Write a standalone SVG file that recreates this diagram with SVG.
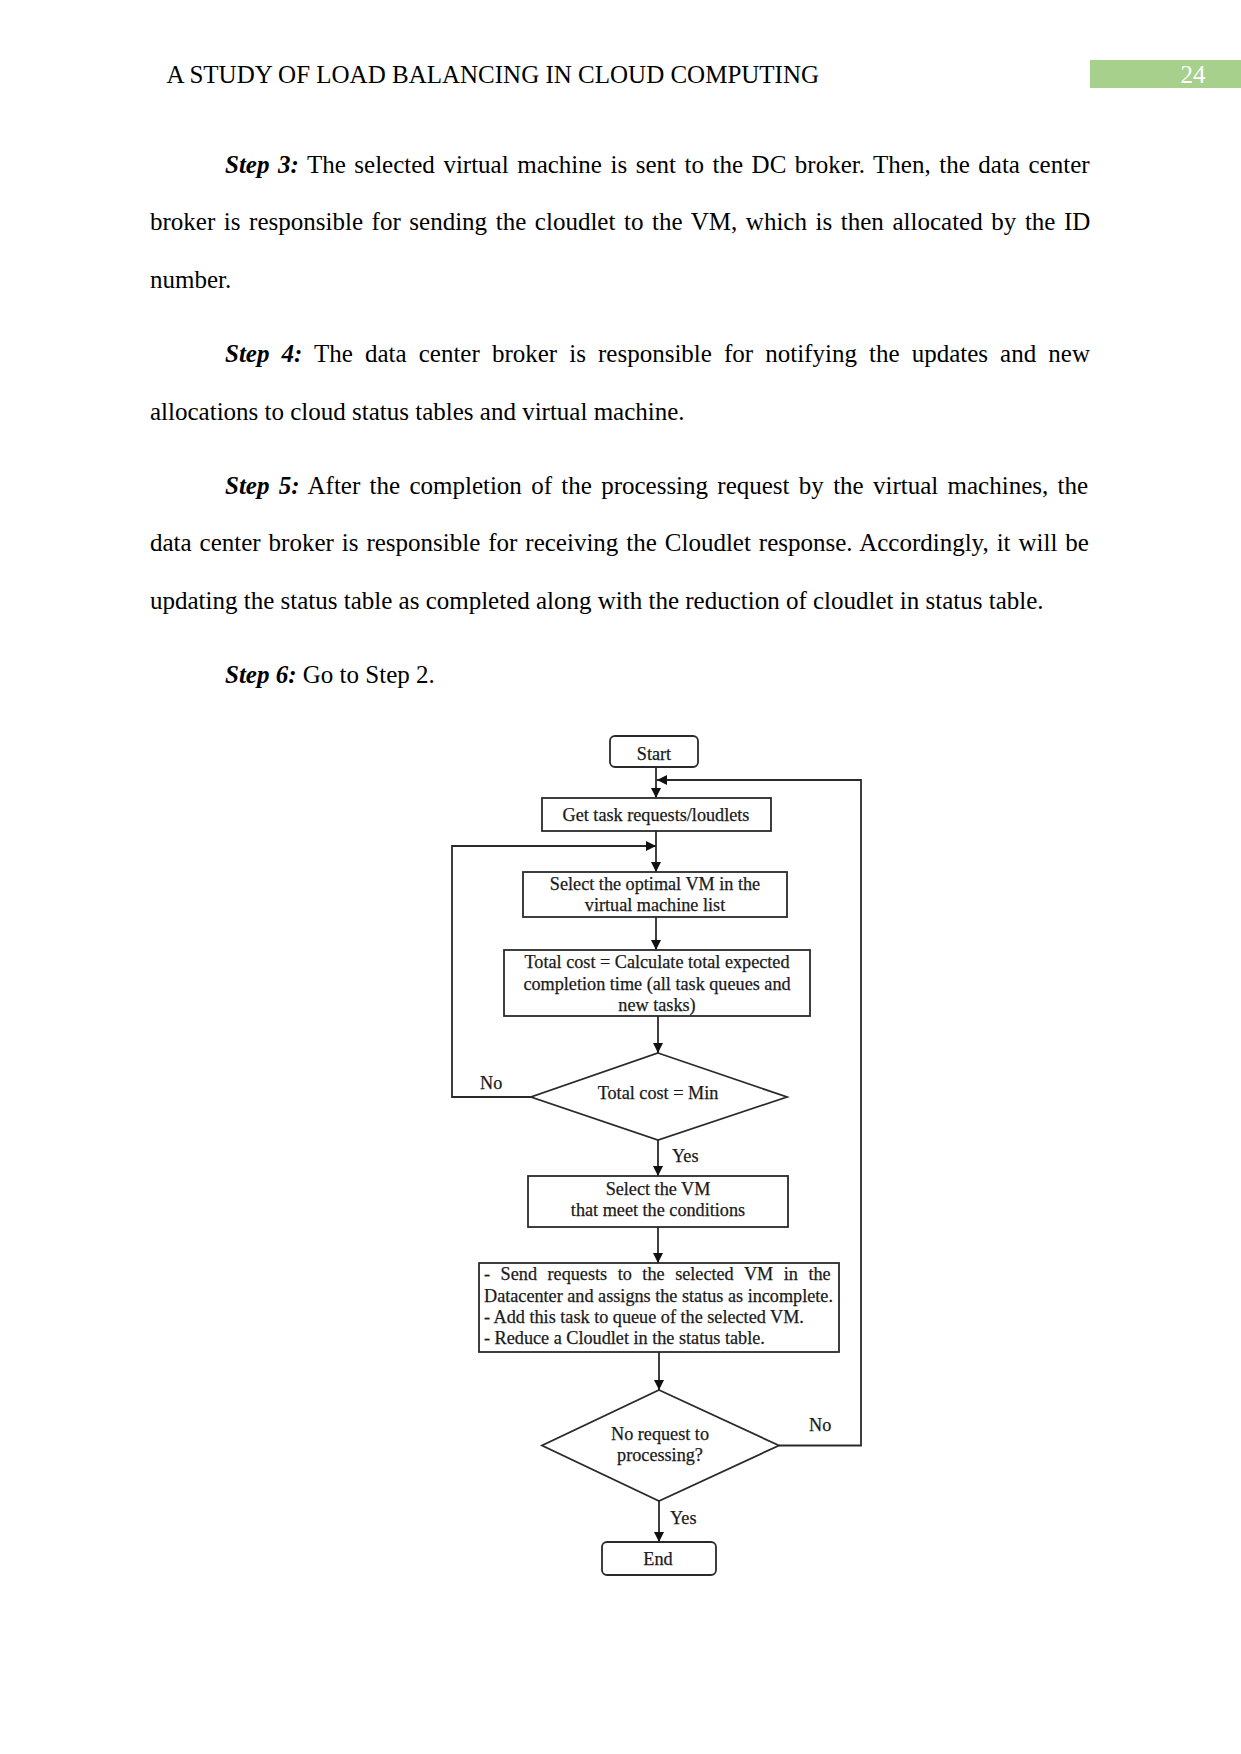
<svg xmlns="http://www.w3.org/2000/svg" width="1241" height="1754" viewBox="0 0 1241 1754">
<style>
.body{font-family:"Liberation Serif","Times New Roman",serif;font-size:25px;fill:#000}
.bi{font-weight:bold;font-style:italic}
.hdr{font-family:"Liberation Serif","Times New Roman",serif;font-size:25px;fill:#000}
.fc{font-family:"Liberation Serif","Times New Roman",serif;font-size:18.2px;fill:#1a1a1a;stroke:#1a1a1a;stroke-width:0.25}
.fcm{text-anchor:middle}
.shape{fill:#fff;stroke:#2a2a2a;stroke-width:1.8}
.conn{fill:none;stroke:#2a2a2a;stroke-width:1.8}
</style>
<defs>
<marker id="arr" viewBox="0 0 10 10" refX="10" refY="5" markerWidth="10" markerHeight="10" markerUnits="userSpaceOnUse" orient="auto">
<path d="M0,0 L10,5 L0,10 z" fill="#111"/>
</marker>
</defs>
<rect width="1241" height="1754" fill="#fff"/>

<g id="header">
<text class="hdr" x="166.5" y="82.5">A STUDY OF LOAD BALANCING IN CLOUD COMPUTING</text>
<rect x="1090" y="60" width="151" height="28" fill="#a8d08d"/>
<text class="hdr" x="1193" y="82.5" text-anchor="middle" style="fill:#fff">24</text>
</g>

<g id="body-text">
<text class="body" x="225" y="172.5" word-spacing="2.3"><tspan class="bi">Step 3:</tspan> The selected virtual machine is sent to the DC broker. Then, the data center</text>
<text class="body" x="150" y="230" word-spacing="2.35">broker is responsible for sending the cloudlet to the VM, which is then allocated by the ID</text>
<text class="body" x="150" y="287.5">number.</text>
<text class="body" x="225" y="361.5" word-spacing="5.85"><tspan class="bi">Step 4:</tspan> The data center broker is responsible for notifying the updates and new</text>
<text class="body" x="150" y="419.5">allocations to cloud status tables and virtual machine.</text>
<text class="body" x="225" y="493.5" word-spacing="3.05"><tspan class="bi">Step 5:</tspan> After the completion of the processing request by the virtual machines, the</text>
<text class="body" x="150" y="551" word-spacing="1.7">data center broker is responsible for receiving the Cloudlet response. Accordingly, it will be</text>
<text class="body" x="150" y="608.5">updating the status table as completed along with the reduction of cloudlet in status table.</text>
<text class="body" x="225" y="682.5"><tspan class="bi">Step 6:</tspan> Go to Step 2.</text>
</g>

<g id="connectors">
<line class="conn" x1="656" y1="767" x2="656" y2="798" marker-end="url(#arr)"/>
<polyline class="conn" points="779,1445.5 861,1445.5 861,780 657,780" marker-end="url(#arr)"/>
<line class="conn" x1="656" y1="831" x2="656" y2="872" marker-end="url(#arr)"/>
<polyline class="conn" points="531,1097 452,1097 452,846 656,846" marker-end="url(#arr)"/>
<line class="conn" x1="656" y1="917" x2="656" y2="950" marker-end="url(#arr)"/>
<line class="conn" x1="658" y1="1016" x2="658" y2="1053" marker-end="url(#arr)"/>
<line class="conn" x1="658" y1="1140" x2="658" y2="1176" marker-end="url(#arr)"/>
<line class="conn" x1="658" y1="1227" x2="658" y2="1263" marker-end="url(#arr)"/>
<line class="conn" x1="659" y1="1352" x2="659" y2="1390" marker-end="url(#arr)"/>
<line class="conn" x1="659" y1="1501" x2="659" y2="1542" marker-end="url(#arr)"/>
<text class="fc" x="480" y="1089">No</text>
<text class="fc" x="672" y="1162">Yes</text>
<text class="fc" x="809" y="1431">No</text>
<text class="fc" x="670" y="1524">Yes</text>
</g>

<g id="start">
<rect class="shape" x="610" y="736" width="88" height="31" rx="5"/>
<text class="fc fcm" x="654" y="760">Start</text>
</g>

<g id="get-tasks">
<rect class="shape" x="542" y="798" width="229" height="33"/>
<text class="fc fcm" x="656" y="821">Get task requests/loudlets</text>
</g>

<g id="select-optimal">
<rect class="shape" x="523" y="872" width="264" height="45"/>
<text class="fc fcm" x="655" y="890">Select the optimal VM in the</text>
<text class="fc fcm" x="655" y="911">virtual machine list</text>
</g>

<g id="total-cost">
<rect class="shape" x="504" y="950" width="306" height="66"/>
<text class="fc fcm" x="657" y="968">Total cost = Calculate total expected</text>
<text class="fc fcm" x="657" y="989.5">completion time (all task queues and</text>
<text class="fc fcm" x="657" y="1011">new tasks)</text>
</g>

<g id="decision-min">
<polygon class="shape" points="658,1053 787,1097 658,1140 531,1097"/>
<text class="fc fcm" x="658" y="1099">Total cost = Min</text>
</g>

<g id="select-vm">
<rect class="shape" x="528" y="1176" width="260" height="51"/>
<text class="fc fcm" x="658" y="1194.5">Select the VM</text>
<text class="fc fcm" x="658" y="1215.5">that meet the conditions</text>
</g>

<g id="send-requests">
<rect class="shape" x="479" y="1263" width="360" height="89"/>
<text class="fc" x="484" y="1280" word-spacing="6">- Send requests to the selected VM in the</text>
<text class="fc" x="484" y="1302">Datacenter and assigns the status as incomplete.</text>
<text class="fc" x="484" y="1323">- Add this task to queue of the selected VM.</text>
<text class="fc" x="484" y="1344">- Reduce a Cloudlet in the status table.</text>
</g>

<g id="decision-done">
<polygon class="shape" points="659,1390 779,1445.5 659,1501 542,1445.5"/>
<text class="fc fcm" x="660" y="1439.5">No request to</text>
<text class="fc fcm" x="660" y="1461">processing?</text>
</g>

<g id="end">
<rect class="shape" x="602" y="1542" width="114" height="33" rx="5"/>
<text class="fc fcm" x="658" y="1565">End</text>
</g>
</svg>
